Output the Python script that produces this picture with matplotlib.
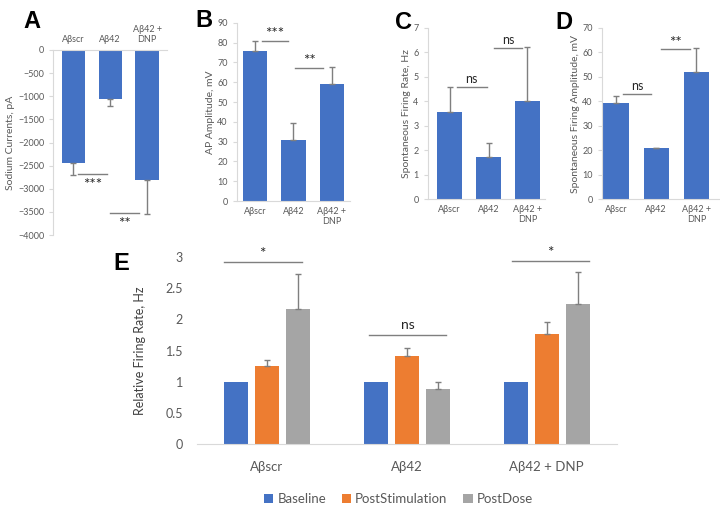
import matplotlib.pyplot as plt
import numpy as np

plt.rcParams['font.family'] = ['Lato', 'DejaVu Sans']

groups = ['Aβscr', 'Aβ42', 'Aβ42 +\nDNP']
e_groups = ['Aβscr', 'Aβ42', 'Aβ42 + DNP']

# panel A: sodium currents (negative)
na_mean = [-2450, -1050, -2800]
na_err = [260, 170, 750]
# panel B: AP amplitude
ap_mean = [76, 31, 59]
ap_err = [5, 8.5, 8.5]
# panel C: spontaneous firing rate
sfr_mean = [3.55, 1.72, 4.02]
sfr_err = [1.05, 0.56, 2.2]
# panel D: spontaneous firing amplitude
sfa_mean = [39.5, 20.7, 52]
sfa_err = [2.6, 0.3, 10]
# panel E: relative firing rate
series = ['Baseline', 'PostStimulation', 'PostDose']
e_mean = [[1, 1, 1], [1.26, 1.42, 1.77], [2.17, 0.89, 2.25]]
e_err = [[0, 0, 0], [0.09, 0.12, 0.19], [0.56, 0.10, 0.52]]

blue = '#4472C4'
colors = ['#4472C4', '#ED7D31', '#A5A5A5']
grey_txt = '#595959'
line_c = '#D9D9D9'
sig_c = '#7F7F7F'

fig = plt.figure(figsize=(7.2, 5.09), dpi=100)


def style(ax, fs=6.5):
    for s in ['top', 'right', 'left', 'bottom']:
        ax.spines[s].set_color(line_c)
    ax.spines['top'].set_visible(False)
    ax.spines['right'].set_visible(False)
    ax.tick_params(axis='y', colors=grey_txt, labelsize=fs, length=3, color=line_c)
    ax.tick_params(axis='x', colors=grey_txt, labelsize=fs, length=0, pad=4)


def sig(ax, x0, x1, y, txt, dy, fs=9):
    ax.plot([x0, x1], [y, y], color=sig_c, lw=1)
    if '*' in txt:
        fs = fs + 2
    ax.text((x0 + x1) / 2, y + dy, txt, ha='center', va='center', fontsize=fs, color='#262626')


def small_panel(rect, mean, err, ylim, yticks, ylabel, xlim):
    ax = fig.add_axes(rect)
    x = np.arange(3)
    ax.bar(x, mean, width=0.63, color=blue, zorder=2)
    ax.errorbar(x, mean, yerr=[np.zeros(3), err], fmt='none', ecolor=sig_c, elinewidth=1, capsize=2.5, zorder=3)
    ax.set_xlim(*xlim)
    ax.set_ylim(*ylim)
    ax.set_yticks(yticks)
    ax.set_xticks(x)
    ax.set_xticklabels(groups)
    ax.set_ylabel(ylabel, fontsize=7.5, color=grey_txt, labelpad=2)
    style(ax)
    return ax


def letter(x, y, s):
    fig.text(x, y, s, fontsize=17, fontweight='bold', family='Liberation Sans', va='center')


# panel A
axA = fig.add_axes([0.074, 0.538, 0.158, 0.364])
x = np.arange(3)
axA.bar(x, na_mean, width=0.63, color=blue, zorder=2)
axA.errorbar(x, na_mean, yerr=[na_err, np.zeros(3)], fmt='none', ecolor=sig_c, elinewidth=1, capsize=2.5, zorder=3)
axA.set_ylim(-4000, 0)
axA.set_xlim(-0.54, 2.54)
axA.set_yticks(np.arange(-4000, 1, 500))
axA.xaxis.tick_top()
axA.set_xticks(x)
axA.set_xticklabels(groups)
axA.set_ylabel('Sodium Currents, pA', fontsize=7.5, color=grey_txt, labelpad=2)
style(axA)
axA.spines['top'].set_visible(True)
axA.spines['bottom'].set_visible(False)
sig(axA, 0.13, 0.92, -2680, '***', -240)
sig(axA, 1.0, 1.78, -3520, '**', -230)
letter(0.033, 0.958, 'A')

# panel B
axB = small_panel([0.329, 0.605, 0.157, 0.35], ap_mean, ap_err, (0, 90), np.arange(0, 91, 10),
                  'AP Amplitude, mV', (-0.47, 2.47))
sig(axB, 0.18, 0.86, 80.9, '***', 3.5)
sig(axB, 1.05, 1.78, 67.2, '**', 3.5)
letter(0.272, 0.96, 'B')

# panel C
axC = small_panel([0.594, 0.609, 0.163, 0.336], sfr_mean, sfr_err, (0, 7), np.arange(0, 8, 1),
                  'Spontaneous Firing Rate, Hz', (-0.56, 2.45))
sig(axC, 0.18, 0.95, 4.59, 'ns', 0.33)
sig(axC, 1.15, 1.87, 6.19, 'ns', 0.33)
letter(0.548, 0.955, 'C')

# panel D
axD = small_panel([0.836, 0.609, 0.162, 0.336], sfa_mean, sfa_err, (0, 70), np.arange(0, 71, 10),
                  'Spontaneous Firing Amplitude, mV', (-0.35, 2.55))
sig(axD, 0.17, 0.88, 43, 'ns', 3.3)
sig(axD, 1.12, 1.85, 61.4, '**', 2.6)
letter(0.772, 0.955, 'D')

# panel E
axE = fig.add_axes([0.2736, 0.1277, 0.583, 0.367])
w = 0.171
off = 0.221
xe = np.arange(3)
for i, name in enumerate(series):
    axE.bar(xe + (i - 1) * off, e_mean[i], width=w, color=colors[i], label=name, zorder=2)
    if i > 0:
        axE.errorbar(xe + (i - 1) * off, e_mean[i], yerr=[np.zeros(3), e_err[i]], fmt='none',
                     ecolor=sig_c, elinewidth=1, capsize=2.5, zorder=3)
axE.set_xlim(-0.5, 2.5)
axE.set_ylim(0, 3)
axE.set_yticks(np.arange(0, 3.01, 0.5))
axE.set_yticklabels(['0', '0.5', '1', '1.5', '2', '2.5', '3'])
axE.set_xticks(xe)
axE.set_xticklabels(e_groups)
axE.set_ylabel('Relative Firing Rate, Hz', fontsize=9, color='#404040', labelpad=14)
style(axE, fs=9)
axE.spines['left'].set_visible(False)
axE.tick_params(axis='y', length=0, pad=10)
axE.tick_params(axis='x', labelsize=9.5, pad=12)
sig(axE, -0.31, 0.25, 2.92, '*', 0.13, fs=9)
sig(axE, 0.73, 1.28, 1.75, 'ns', 0.16, fs=10)
sig(axE, 1.75, 2.3, 2.94, '*', 0.13, fs=9)
axE.legend(loc='upper center', bbox_to_anchor=(0.48, -0.2), ncol=3, frameon=False, fontsize=9.5,
           handlelength=0.7, handleheight=0.7, handletextpad=0.3, columnspacing=1.2, labelcolor=grey_txt)
letter(0.158, 0.483, 'E')

fig.savefig('out.png', dpi=100)
